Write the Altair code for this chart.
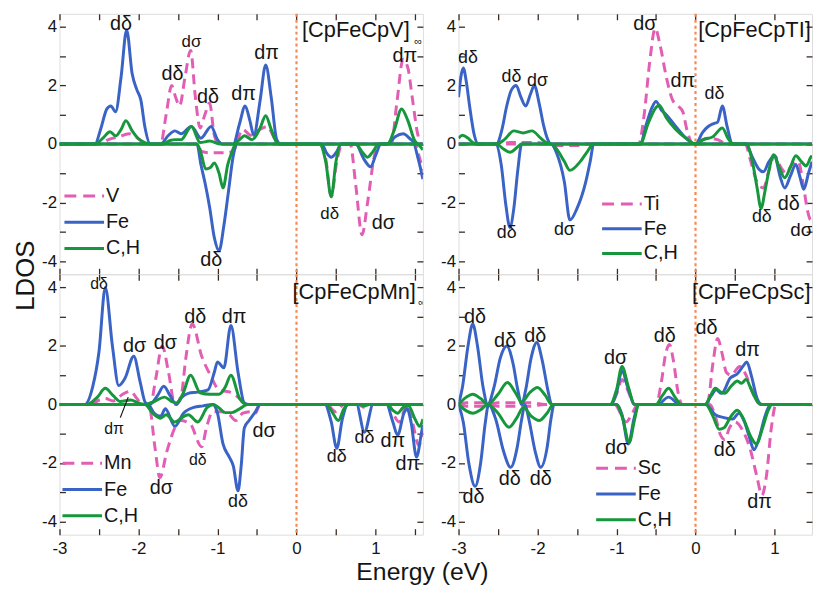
import altair as alt
import pandas as pd

FONT = "Liberation Sans, Arial, sans-serif"
PINK = "#e25db4"
BLUE = "#3a63c6"
GREEN = "#16973c"
ORANGE = "#f68a52"
AXIS = "#3a2a20"
TXT = "#151515"

X_DOMAIN_L = [-3, 1.6]
X_DOMAIN_R = [-3, 1.475]
Y_DOMAIN = [-4.45, 4.45]
X_TICKS_L = [-3, -2.5, -2, -1.5, -1, -0.5, 0, 0.5, 1, 1.5]
X_TICKS_R = [-3, -2.5, -2, -1.5, -1, -0.5, 0, 0.5, 1]
Y_TICKS = [-4, -3, -2, -1, 0, 1, 2, 3, 4]
FERMI = [0]

# ---------------- [CpFeCpV] ----------------
V_METAL_UP = [(-3,0),(-2.5,0),(-2.38,0.15),(-2.25,0.25),(-2.12,0.35),(-2.02,0.22),(-1.9,0),(-1.72,0),(-1.65,1.0),(-1.58,2.0),(-1.53,1.6),(-1.48,1.3),(-1.41,2.3),(-1.34,3.2),(-1.28,1.6),(-1.22,0.55),(-1.16,1.0),(-1.1,1.4),(-1.04,0.3),(-0.98,0),(-0.78,0),(-0.68,0.5),(-0.58,0.3),(-0.46,0.5),(-0.37,0.6),(-0.28,0.2),(-0.22,0),(1.2,0),(1.27,1.4),(1.35,2.9),(1.41,2.6),(1.47,1.5),(1.53,0.4),(1.58,0),(1.6,0)]
V_METAL_DN = [(-3,0),(-1.26,0),(-1.2,-0.25),(-1.1,-0.3),(-0.9,-0.3),(-0.8,-0.25),(-0.75,0),(0.3,0),(0.37,-0.5),(0.44,-1.8),(0.51,-0.6),(0.58,0),(0.68,0),(0.75,-1.4),(0.83,-3.1),(0.9,-2.0),(0.98,-0.5),(1.03,0),(1.5,0),(1.55,-0.4),(1.6,-0.9)]
V_FE_UP = [(-3,0),(-2.55,0),(-2.48,0.5),(-2.4,1.2),(-2.35,1.3),(-2.29,1.1),(-2.22,2.3),(-2.15,3.9),(-2.08,2.4),(-2.02,1.85),(-1.97,1.5),(-1.92,0.6),(-1.85,0),(-1.72,0),(-1.62,0.3),(-1.54,0.45),(-1.46,0.35),(-1.33,0.6),(-1.21,0.2),(-1.08,0.6),(-1.0,0.15),(-0.94,0),(-0.8,0),(-0.72,0.7),(-0.65,1.3),(-0.59,0.8),(-0.54,0.3),(-0.46,1.5),(-0.39,2.7),(-0.32,1.6),(-0.25,0.15),(-0.2,0),(1.15,0),(1.25,0.25),(1.35,0.35),(1.45,0.15),(1.52,0),(1.6,0)]
V_FE_DN = [(-3,0),(-1.26,0),(-1.21,-0.7),(-1.16,-1.3),(-1.1,-2.15),(-1.04,-3.2),(-0.98,-3.65),(-0.92,-2.8),(-0.86,-1.6),(-0.8,-0.4),(-0.75,0),(0.32,0),(0.38,-0.3),(0.44,-0.45),(0.5,-0.3),(0.57,0),(0.75,0),(0.85,-0.5),(0.94,-0.78),(1.0,-0.4),(1.07,0),(1.48,0),(1.54,-0.5),(1.6,-1.2)]
V_CH_UP = [(-3,0),(-2.55,0),(-2.45,0.2),(-2.36,0.42),(-2.29,0.28),(-2.22,0.5),(-2.16,0.8),(-2.08,0.45),(-2.0,0.18),(-1.92,0.05),(-1.85,0),(-1.7,0),(-1.6,0.12),(-1.54,0.15),(-1.46,0.15),(-1.33,0.6),(-1.22,0.05),(-1.1,0.1),(-0.96,0),(-0.8,0),(-0.72,0.15),(-0.66,0.28),(-0.56,0.15),(-0.46,0.55),(-0.39,0.97),(-0.32,0.5),(-0.25,0.05),(-0.2,0),(1.15,0),(1.24,0.5),(1.33,1.2),(1.41,0.8),(1.5,0.1),(1.55,0),(1.6,0)]
V_CH_DN = [(-3,0),(-1.26,0),(-1.21,-0.3),(-1.15,-0.85),(-1.09,-0.8),(-1.04,-0.65),(-0.98,-1.0),(-0.93,-1.5),(-0.87,-0.7),(-0.82,-0.3),(-0.77,0),(0.29,0),(0.37,-0.6),(0.44,-1.8),(0.5,-0.6),(0.56,0),(0.75,0),(0.84,-0.3),(0.9,-0.45),(0.97,-0.25),(1.04,0),(1.52,0),(1.6,-0.2)]
V_LABELS = ["dδ","dσ","dδ","dδ","dπ","dπ","dδ","dδ","dσ","dπ"]
V_LAB_E = [-2.22,-1.33,-1.57,-1.12,-0.67,-0.38,-1.08,0.42,1.1,1.37]
V_LAB_V = [4.1,3.5,2.4,1.6,1.7,3.1,-3.95,-2.4,-2.7,3.0]
V_LAB_S = [20,17,20,20,20,20,20,17,20,20]

# ---------------- [CpFeCpTi] ----------------
TI_METAL_UP = [(-3,0),(-2.5,0),(-2.35,0.05),(-2.0,0.05),(-1.88,0),(-0.72,0),(-0.65,1.0),(-0.58,2.8),(-0.51,3.95),(-0.45,3.4),(-0.37,2.3),(-0.29,1.5),(-0.22,1.3),(-0.16,1.1),(-0.11,0.5),(-0.03,0),(0.05,0.1),(0.15,0.2),(0.28,0.15),(0.4,0),(1.475,0)]
TI_METAL_DN = [(-3,0),(-1.88,0),(-1.78,-0.05),(-1.5,-0.05),(-1.4,0),(0.63,0),(0.7,-0.6),(0.78,-1.3),(0.86,-1.5),(0.93,-0.9),(1.0,-0.4),(1.08,-0.8),(1.15,-1.0),(1.22,-0.7),(1.3,-0.6),(1.37,-1.5),(1.42,-2.3),(1.46,-2.6),(1.475,-2.6)]
TI_FE_UP = [(-3,1.6),(-2.97,2.3),(-2.94,2.6),(-2.9,2.1),(-2.86,1.3),(-2.8,0.3),(-2.75,0),(-2.52,0),(-2.45,0.5),(-2.39,1.3),(-2.33,1.85),(-2.27,2.0),(-2.21,1.6),(-2.15,1.3),(-2.09,1.7),(-2.04,2.0),(-1.98,1.4),(-1.92,0.6),(-1.87,0.15),(-1.83,0),(-0.7,0),(-0.62,0.7),(-0.55,1.25),(-0.5,1.45),(-0.43,1.15),(-0.37,1.0),(-0.25,0.6),(-0.12,0.2),(0,0),(0.09,0.4),(0.16,0.6),(0.23,0.7),(0.28,0.75),(0.34,1.3),(0.4,0.6),(0.47,0),(1.475,0)]
TI_FE_DN = [(-3,0),(-2.53,0),(-2.46,-0.7),(-2.4,-2.1),(-2.35,-2.85),(-2.3,-2.2),(-2.25,-0.9),(-2.2,0),(-1.83,0),(-1.76,-0.3),(-1.66,-1.3),(-1.59,-2.6),(-1.5,-2.2),(-1.39,-1.3),(-1.33,-0.55),(-1.29,0),(0.64,0),(0.72,-0.45),(0.8,-0.85),(0.86,-0.95),(0.93,-0.6),(1.0,-0.4),(1.07,-1.1),(1.13,-1.5),(1.2,-1.1),(1.27,-0.7),(1.32,-1.1),(1.37,-1.55),(1.43,-1.0),(1.475,-0.6)]
TI_CH_UP = [(-3,0.2),(-2.95,0.3),(-2.88,0.2),(-2.82,0.05),(-2.77,0),(-2.52,0),(-2.42,0.15),(-2.3,0.45),(-2.18,0.38),(-2.07,0.45),(-1.96,0.2),(-1.88,0.03),(-1.83,0),(-0.7,0),(-0.6,0.7),(-0.5,1.25),(-0.46,1.33),(-0.37,0.9),(-0.25,0.5),(-0.12,0.2),(0,0),(0.1,0.15),(0.22,0.25),(0.34,0.55),(0.41,0.2),(0.48,0),(1.475,0)]
TI_CH_DN = [(-3,0),(-2.52,0),(-2.44,-0.15),(-2.35,-0.28),(-2.26,-0.12),(-2.2,0),(-1.83,0),(-1.75,-0.2),(-1.66,-0.6),(-1.59,-0.9),(-1.46,-0.6),(-1.38,-0.3),(-1.29,0),(0.64,0),(0.72,-0.6),(0.78,-1.5),(0.83,-2.2),(0.88,-1.6),(0.93,-0.9),(0.99,-0.37),(1.06,-0.8),(1.13,-1.15),(1.2,-0.8),(1.27,-0.4),(1.34,-0.6),(1.4,-0.75),(1.46,-0.45),(1.475,-0.4)]
TI_LABELS = ["dδ","dδ","dσ","dδ","dσ","dσ","dπ","dδ","dδ","dδ","dσ"]
TI_LAB_E = [-2.88,-2.33,-2.0,-2.39,-1.66,-0.64,-0.16,0.24,0.84,1.18,1.34]
TI_LAB_V = [2.95,2.3,2.15,-3.05,-2.95,4.1,2.15,1.7,-2.5,-2.05,-2.95]
TI_LAB_S = [18,18,18,18,18,20,20,18,18,20,19]

# ---------------- [CpFeCpMn] ----------------
MN_METAL_UP = [(-3,0),(-2.6,0),(-2.5,0.15),(-2.42,0.2),(-2.32,0.12),(-2.2,0.35),(-2.1,0.45),(-2.02,0.2),(-1.95,0),(-1.85,0),(-1.78,0.9),(-1.7,2.0),(-1.62,1.1),(-1.54,0),(-1.46,0.3),(-1.4,1.6),(-1.32,2.75),(-1.2,1.65),(-1.09,1.0),(-0.98,0.5),(-0.82,0.4),(-0.72,0.2),(-0.64,0),(1.6,0)]
MN_METAL_DN = [(-3,0),(-1.87,0),(-1.79,-1.5),(-1.73,-2.5),(-1.64,-1.6),(-1.54,-0.8),(-1.47,-0.55),(-1.35,-0.65),(-1.2,-1.45),(-1.14,-0.8),(-1.06,-0.25),(-0.95,-0.25),(-0.85,-0.35),(-0.77,-0.55),(-0.68,-0.3),(-0.58,-0.25),(-0.52,-0.3),(-0.46,0),(0.38,0),(0.5,-0.25),(0.6,0),(0.78,0),(0.86,-0.1),(0.95,0),(1.15,0),(1.3,-0.6),(1.4,0),(1.46,-0.5),(1.55,-1.4),(1.6,-0.9)]
MN_FE_UP = [(-3,0),(-2.68,0),(-2.58,0.6),(-2.5,1.8),(-2.42,4.0),(-2.33,2.0),(-2.25,0.65),(-2.17,0.9),(-2.06,1.65),(-1.98,0.78),(-1.91,0.05),(-1.86,0),(-1.76,0.3),(-1.68,0.62),(-1.6,0.3),(-1.52,0),(-1.45,0.25),(-1.37,0.38),(-1.25,0.42),(-1.12,0.5),(-1.04,1.1),(-1.0,1.45),(-0.92,1.25),(-0.83,2.7),(-0.74,1.1),(-0.66,0.05),(-0.6,0),(1.6,0)]
MN_FE_DN = [(-3,0),(-1.88,0),(-1.8,-0.3),(-1.72,-0.4),(-1.66,-0.15),(-1.54,-0.75),(-1.43,-0.3),(-1.3,-0.1),(-1.18,-0.05),(-1.06,0),(-1.0,-0.3),(-0.93,-1.35),(-0.85,-1.8),(-0.8,-2.1),(-0.74,-2.95),(-0.7,-2.1),(-0.66,-0.8),(-0.6,-0.55),(-0.52,-0.25),(-0.46,0),(0.36,0),(0.44,-0.6),(0.51,-1.5),(0.58,-0.5),(0.65,0),(0.76,0),(0.86,-0.95),(0.97,0),(1.14,0),(1.22,-0.6),(1.28,-1.05),(1.36,-0.3),(1.4,-0.15),(1.45,-0.6),(1.52,-1.8),(1.58,-1.0),(1.6,-0.7)]
MN_CH_UP = [(-3,0),(-2.65,0),(-2.52,0.25),(-2.42,0.55),(-2.32,0.3),(-2.23,0.1),(-2.1,0.15),(-2.0,0.05),(-1.92,0),(-1.8,0.1),(-1.67,0.25),(-1.58,0.1),(-1.52,0.05),(-1.44,0.35),(-1.34,1.0),(-1.22,0.4),(-1.1,0.35),(-0.98,0.35),(-0.9,0.6),(-0.83,1.0),(-0.72,0.2),(-0.63,0),(1.6,0)]
MN_CH_DN = [(-3,0),(-1.92,0),(-1.82,-0.3),(-1.72,-0.47),(-1.65,-0.35),(-1.54,-0.6),(-1.45,-0.45),(-1.37,-0.35),(-1.25,-0.6),(-1.13,-0.1),(-1.05,0),(-0.98,-0.12),(-0.9,-0.28),(-0.82,-0.28),(-0.72,-0.15),(-0.62,0),(0.38,0),(0.45,-0.25),(0.53,-0.55),(0.6,-0.15),(0.66,0),(0.8,0),(0.86,-0.05),(0.92,0),(1.15,0),(1.22,-0.2),(1.28,-0.3),(1.35,-0.1),(1.42,-0.05),(1.5,-0.5),(1.56,-0.75),(1.6,-0.5)]
MN_LABELS = ["dδ","dσ","dσ","dδ","dπ","dπ","dσ","dδ","dσ","dδ","dδ","dδ","dπ","dπ"]
MN_LAB_E = [-2.5,-2.05,-1.66,-1.28,-0.79,-2.31,-0.41,-1.25,-1.71,-0.74,0.51,0.86,1.22,1.41]
MN_LAB_V = [4.12,2.0,2.1,3.0,3.0,-0.85,-0.9,-1.9,-2.85,-3.35,-1.8,-1.15,-1.25,-2.05]
MN_LAB_S = [16,20,20,20,20,16,20,16,20,18,18,18,20,20]
MN_LEADER = [(-2.13, 0.25, -2.23, -0.45)]

# ---------------- [CpFeCpSc] ----------------
SC_METAL_UP = [(-3,0),(-2.9,0.06),(-2.7,0.06),(-2.62,0),(-2.5,0.06),(-2.1,0.06),(-1.9,0),(-1.08,0),(-1.0,0.35),(-0.93,0.85),(-0.86,0.5),(-0.77,0),(-0.5,0),(-0.43,0.8),(-0.38,1.7),(-0.33,2.05),(-0.28,1.5),(-0.22,0.4),(-0.17,0),(0.15,0),(0.22,1.4),(0.28,2.25),(0.34,1.7),(0.39,1.1),(0.45,1.0),(0.56,1.3),(0.64,1.0),(0.73,0.35),(0.82,0),(1.475,0)]
SC_METAL_DN = [(-3,0),(-2.9,-0.06),(-2.7,-0.06),(-2.62,0),(-2.5,-0.06),(-2.1,-0.06),(-1.9,0),(-1.02,0),(-0.95,-0.3),(-0.88,-0.6),(-0.8,-0.3),(-0.73,0),(0.18,0),(0.25,-0.4),(0.31,-1.0),(0.37,-1.2),(0.43,-0.8),(0.5,-0.6),(0.6,-0.9),(0.7,-1.6),(0.78,-2.5),(0.84,-3.1),(0.9,-2.4),(0.96,-0.8),(1.02,0),(1.475,0)]
SC_FE_UP = [(-3,0),(-2.95,0.6),(-2.88,2.0),(-2.82,2.75),(-2.76,2.0),(-2.69,0.6),(-2.63,0),(-2.55,0.6),(-2.47,1.6),(-2.39,2.0),(-2.31,1.4),(-2.25,0.5),(-2.2,0),(-2.15,0.5),(-2.08,1.6),(-2.01,2.12),(-1.94,1.5),(-1.87,0.5),(-1.82,0),(-1.07,0),(-1.0,0.4),(-0.93,1.15),(-0.86,0.6),(-0.77,0),(-0.48,0),(-0.34,0.25),(-0.2,0),(0.12,0),(0.2,0.3),(0.26,0.5),(0.33,0.38),(0.44,0.9),(0.53,1.05),(0.6,1.3),(0.65,1.45),(0.71,0.95),(0.78,0.2),(0.84,0),(1.475,0)]
SC_FE_DN = [(-3,0),(-2.94,-0.6),(-2.87,-2.0),(-2.79,-2.8),(-2.72,-2.0),(-2.66,-0.6),(-2.62,0),(-2.53,-0.5),(-2.43,-1.6),(-2.34,-2.15),(-2.26,-1.5),(-2.2,-0.5),(-2.16,0),(-2.11,-0.5),(-2.03,-1.6),(-1.96,-2.15),(-1.88,-1.5),(-1.83,-0.5),(-1.79,0),(-1.0,0),(-0.93,-0.35),(-0.85,-1.35),(-0.78,-0.5),(-0.72,0),(0.13,0),(0.25,-0.35),(0.36,-0.45),(0.47,-0.5),(0.55,-0.3),(0.62,-0.6),(0.68,-1.1),(0.74,-1.55),(0.8,-1.2),(0.88,-0.4),(0.95,0),(1.475,0)]
SC_CH_UP = [(-3,0),(-2.9,0.25),(-2.82,0.35),(-2.72,0.2),(-2.63,0),(-2.5,0.35),(-2.38,0.75),(-2.28,0.4),(-2.2,0.08),(-2.1,0.4),(-2.0,0.58),(-1.9,0.3),(-1.82,0),(-1.08,0),(-1.0,0.5),(-0.93,1.3),(-0.85,0.6),(-0.77,0),(-0.5,0),(-0.42,0.3),(-0.34,0.55),(-0.26,0.25),(-0.18,0),(0.12,0),(0.19,0.3),(0.25,0.55),(0.32,0.42),(0.37,0.38),(0.45,0.62),(0.53,0.8),(0.58,0.72),(0.64,0.85),(0.7,0.55),(0.77,0.15),(0.84,0),(1.475,0)]
SC_CH_DN = [(-3,0),(-2.9,-0.22),(-2.82,-0.3),(-2.72,-0.18),(-2.63,0),(-2.5,-0.3),(-2.36,-0.78),(-2.26,-0.45),(-2.18,-0.1),(-2.08,-0.4),(-1.98,-0.55),(-1.88,-0.3),(-1.8,0),(-1.0,0),(-0.92,-0.5),(-0.84,-1.3),(-0.77,-0.5),(-0.72,0),(0.13,0),(0.22,-0.4),(0.3,-0.85),(0.36,-0.8),(0.45,-0.4),(0.53,-0.2),(0.6,-0.45),(0.7,-1.1),(0.77,-1.35),(0.85,-0.8),(0.92,-0.2),(0.97,0),(1.475,0)]
SC_LABELS = ["dδ","dδ","dδ","dδ","dδ","dδ","dσ","dσ","dδ","dδ","dπ","dδ","dπ"]
SC_LAB_E = [-2.79,-2.41,-2.03,-2.81,-2.35,-1.96,-1.01,-1.0,-0.39,0.14,0.66,0.37,0.81]
SC_LAB_V = [3.0,2.15,2.35,-3.15,-2.55,-2.55,1.6,-1.5,2.35,2.6,1.85,-1.55,-3.35]
SC_LAB_S = [20,20,20,20,20,20,20,20,20,20,20,20,20]

SPECIES = ["metal", "Fe", "C,H"]
COLORS = [PINK, BLUE, GREEN]

YS = alt.Scale(domain=Y_DOMAIN, nice=False, zero=False)
PH = 263


def curve_df(up, dn):
    rows = [dict(E=e, v=v, spin="up", i=k) for k, (e, v) in enumerate(up)]
    rows += [dict(E=e, v=v, spin="dn", i=k) for k, (e, v) in enumerate(dn)]
    return pd.DataFrame(rows)


def x_axis(orient, labels, ticks, **kw):
    return alt.Axis(orient=orient, values=ticks, tickSize=6, offset=-6, domain=False, grid=False,
                    labels=labels, labelExpr="datum.value % 1 == 0 ? '' + datum.value : ''",
                    labelFontSize=17, labelFont=FONT, labelColor=TXT, labelPadding=6,
                    labelFlush=False, labelOverlap=False, tickColor=AXIS, tickWidth=1.3,
                    minExtent=0, **kw)


def y_axis(orient, labels, **kw):
    return alt.Axis(orient=orient, values=Y_TICKS, tickSize=6, offset=-6, domain=False, grid=False,
                    labels=labels, labelExpr="datum.value % 2 == 0 ? '' + datum.value : ''",
                    labelFontSize=17, labelFont=FONT, labelColor=TXT, labelPadding=3,
                    labelFlush=False, labelOverlap=False, tickColor=AXIS, tickWidth=1.3,
                    minExtent=0, **kw)


def panel(curves, metal, title, title_e, title_v, inf_e, inf_v, labels, lab_e, lab_v, lab_s,
          legend_x, legend_y, legend_dy, bottom, first_col, leaders=None):
    XS = alt.Scale(domain=X_DOMAIN_L if first_col else X_DOMAIN_R, nice=False, zero=False)
    ticks = X_TICKS_L if first_col else X_TICKS_R
    pw = 367 if first_col else 357
    base_df = curve_df(*curves[1])
    if bottom:
        if first_col:
            xa = x_axis("bottom", True, ticks, title="Energy (eV)", titleX=366, titleY=51,
                        titleFontSize=25, titleFont=FONT, titleFontWeight="normal", titleColor=TXT,
                        titleBaseline="alphabetic", titleAlign="center")
        else:
            xa = x_axis("bottom", True, ticks, title=None)
    else:
        xa = x_axis("bottom", False, ticks, title=None)
    if first_col and not bottom:
        ya = y_axis("left", True, title="LDOS", titleX=-40, titleY=264, titleFontSize=26,
                    titleFont=FONT, titleFontWeight="normal", titleColor=TXT, titleAngle=270,
                    titleAlign="center", titleBaseline="middle")
    else:
        ya = y_axis("left", True, title=None)
    axes_main = alt.Chart(base_df).mark_line(opacity=0).encode(
        x=alt.X("E:Q", scale=XS, axis=xa), y=alt.Y("v:Q", scale=YS, axis=ya), detail="spin:N")
    axes_mirror = alt.Chart(base_df).mark_line(opacity=0).encode(
        x=alt.X("E:Q", scale=XS, axis=x_axis("top", False, ticks, title=None)),
        y=alt.Y("v:Q", scale=YS, axis=y_axis("right", False, title=None)), detail="spin:N")

    vline = alt.Chart(pd.DataFrame({"E": FERMI})).mark_rule(
        color=ORANGE, strokeWidth=2.2, strokeDash=[3, 3]).encode(x=alt.X("E:Q", scale=XS, axis=None))

    layers = [axes_main, axes_mirror, vline]
    for (up, dn), col, sp in zip(curves, COLORS, SPECIES):
        kw = dict(color=col, strokeWidth=3, interpolate="monotone", clip=True)
        if sp == "metal":
            kw["strokeDash"] = [10, 6]
        layers.append(alt.Chart(curve_df(up, dn)).mark_line(**kw).encode(
            x=alt.X("E:Q", scale=XS, axis=None), y=alt.Y("v:Q", scale=YS, axis=None),
            detail="spin:N", order="i:Q"))

    if leaders:
        ldf = pd.DataFrame(leaders, columns=["E", "v", "E2", "v2"])
        layers.append(alt.Chart(ldf).mark_rule(color=TXT, strokeWidth=1.2).encode(
            x=alt.X("E:Q", scale=XS, axis=None), y=alt.Y("v:Q", scale=YS, axis=None),
            x2="E2:Q", y2="v2:Q"))

    adf = pd.DataFrame({"E": lab_e, "v": lab_v, "t": labels, "s": lab_s})
    layers.append(alt.Chart(adf).mark_text(font=FONT, color=TXT, baseline="middle", align="center",
                                           clip=True).encode(
        x=alt.X("E:Q", scale=XS, axis=None), y=alt.Y("v:Q", scale=YS, axis=None),
        text="t:N", size=alt.Size("s:Q", scale=None, legend=None)))

    tdf = pd.DataFrame({"E": [title_e], "v": [title_v], "t": [title]})
    layers.append(alt.Chart(tdf).mark_text(font=FONT, color=TXT, baseline="middle", align="left",
                                           fontSize=22, clip=True).encode(
        x=alt.X("E:Q", scale=XS, axis=None), y=alt.Y("v:Q", scale=YS, axis=None), text="t:N"))
    if inf_e is not None:
        idf = pd.DataFrame({"E": [inf_e], "v": [inf_v], "t": ["∞"]})
        layers.append(alt.Chart(idf).mark_text(font=FONT, color=TXT, baseline="middle", align="left",
                                               fontSize=11, clip=True).encode(
            x=alt.X("E:Q", scale=XS, axis=None), y=alt.Y("v:Q", scale=YS, axis=None), text="t:N"))

    names = [metal, "Fe", "C,H"]
    for k, (nm, col) in enumerate(zip(names, COLORS)):
        one = pd.DataFrame({"t": [nm]})
        yy = legend_y + legend_dy * k
        rkw = dict(color=col, strokeWidth=3)
        if k == 0:
            rkw["strokeDash"] = [12, 7]
        layers.append(alt.Chart(one).mark_rule(**rkw).encode(
            x=alt.value(legend_x), x2=alt.value(legend_x + 40), y=alt.value(yy)))
        layers.append(alt.Chart(one).mark_text(font=FONT, color=TXT, fontSize=20, align="left",
                                               baseline="middle").encode(
            x=alt.value(legend_x + 42), y=alt.value(yy), text="t:N"))

    return alt.layer(*layers).resolve_axis(x="independent", y="independent").properties(
        width=pw, height=PH)


p_v = panel([(V_METAL_UP, V_METAL_DN), (V_FE_UP, V_FE_DN), (V_CH_UP, V_CH_DN)], "V",
            "[CpFeCpV]", 0.07, 3.88, 1.49, 3.5, V_LABELS, V_LAB_E, V_LAB_V, V_LAB_S,
            5, 184, 26.5, False, True)
p_ti = panel([(TI_METAL_UP, TI_METAL_DN), (TI_FE_UP, TI_FE_DN), (TI_CH_UP, TI_CH_DN)], "Ti",
             "[CpFeCpTI]", 0.035, 3.88, None, None, TI_LABELS, TI_LAB_E, TI_LAB_V, TI_LAB_S,
             145, 192, 25, False, False)
p_mn = panel([(MN_METAL_UP, MN_METAL_DN), (MN_FE_UP, MN_FE_DN), (MN_CH_UP, MN_CH_DN)], "Mn",
             "[CpFeCpMn]", -0.05, 3.83, 1.54, 3.45, MN_LABELS, MN_LAB_E, MN_LAB_V, MN_LAB_S,
             3, 191, 26.5, True, True, MN_LEADER)
p_sc = panel([(SC_METAL_UP, SC_METAL_DN), (SC_FE_UP, SC_FE_DN), (SC_CH_UP, SC_CH_DN)], "Sc",
             "[CpFeCpSc]", -0.045, 3.83, None, None, SC_LABELS, SC_LAB_E, SC_LAB_V, SC_LAB_S,
             139, 196, 26, True, False)

chart = alt.concat(p_v, p_ti, p_mn, p_sc, columns=2, spacing={"row": 0, "column": 36},
                   bounds="flush").properties(
    padding={"left": 4, "top": 1, "right": 0, "bottom": 0}
).configure_view(stroke=AXIS, strokeWidth=1.5).configure(font=FONT)

chart.save("out.html", embed_options={"renderer": "svg", "actions": False})
